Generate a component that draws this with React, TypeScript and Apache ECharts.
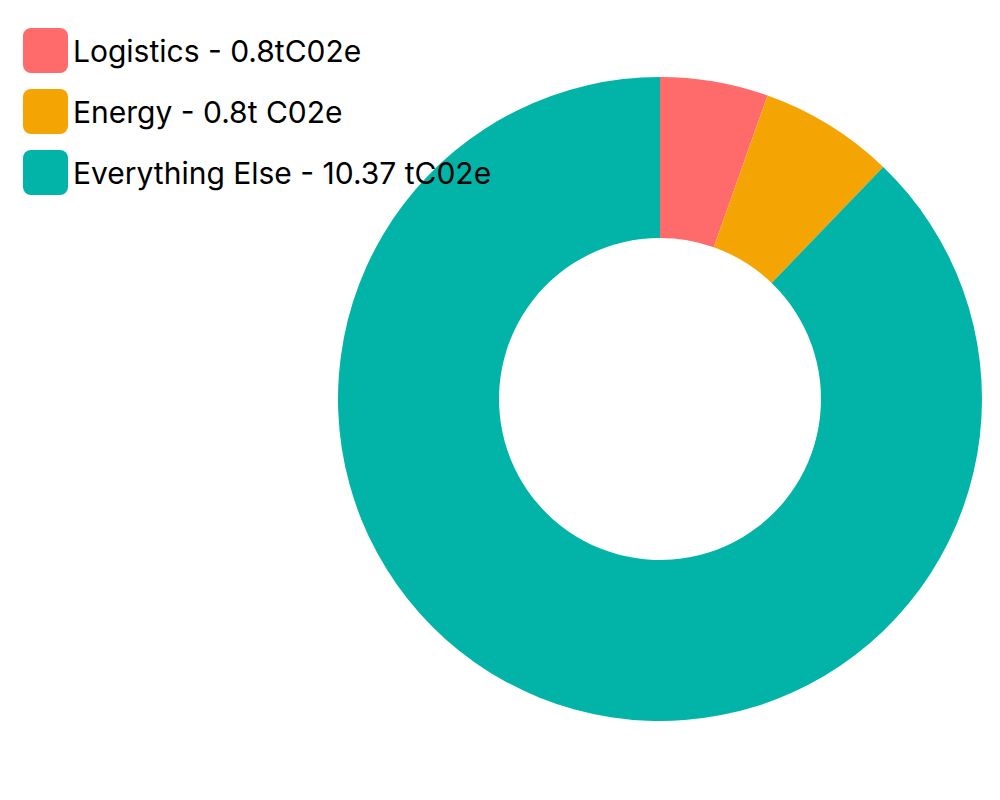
import React, { useEffect, useRef } from "react";
import * as echarts from "echarts";

const categories = ["Logistics", "Energy", "Everything Else"];
const legendLabels = ["Logistics - 0.8tC02e", "Energy - 0.8t C02e", "Everything Else - 10.37 tC02e"];
const values = [0.64, 0.8, 10.37];
const colors = ["#FF6B6B", "#F5A503", "#02B3A7"];

const roundSquare =
  "path://M8,0 H37 A8,8 0 0 1 45,8 V37 A8,8 0 0 1 37,45 H8 A8,8 0 0 1 0,37 V8 A8,8 0 0 1 8,0 Z";

export default function App() {
  const ref = useRef<HTMLDivElement>(null);
  useEffect(() => {
    if (!ref.current) return;
    const chart = echarts.init(ref.current, null, { renderer: "svg" });
    chart.setOption({
      animation: false,
      legend: {
        orient: "vertical",
        left: 23,
        top: 28,
        padding: 0,
        itemWidth: 45,
        itemHeight: 45,
        itemGap: 16,
        icon: roundSquare,
        data: categories,
        formatter: (name: string) => legendLabels[categories.indexOf(name)],
        textStyle: { fontFamily: "Inter", fontSize: 30, color: "#000" },
      },
      series: [
        {
          type: "pie",
          center: [660, 399],
          radius: [161, 322],
          startAngle: 90,
          clockwise: true,
          label: { show: false },
          labelLine: { show: false },
          itemStyle: { borderWidth: 0 },
          emphasis: { disabled: true },
          data: categories.map((c, i) => ({ name: c, value: values[i], itemStyle: { color: colors[i] } })),
        },
      ],
    });
    return () => chart.dispose();
  }, []);
  return (
    <div
      ref={ref}
      style={{ position: "fixed", left: 0, top: 0, width: 1000, height: 800, background: "#fff" }}
    />
  );
}
